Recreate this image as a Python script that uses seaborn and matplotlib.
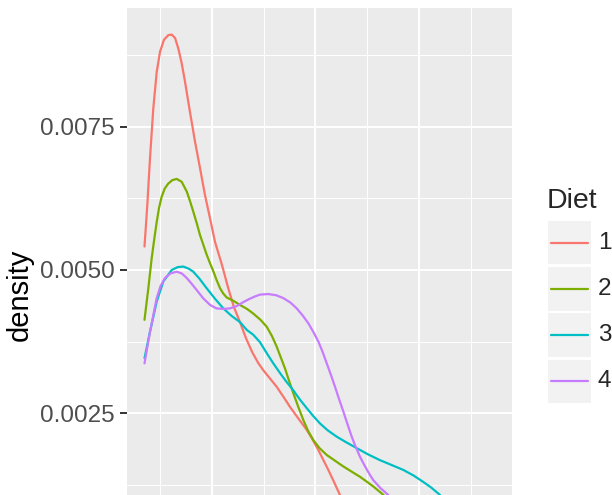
import pandas as pd
import seaborn as sns
import matplotlib.pyplot as plt
from matplotlib.patches import Rectangle
from matplotlib.lines import Line2D

# density curves (weight vs. density, one series per diet)
diet1_weight = [35, 37.7, 40.3, 43.5, 46.8, 50, 53.8, 58, 61.3, 64.5, 67.6, 70.9, 74.1,
                78.9, 83.8, 88.6, 93.4, 98.3, 103.1, 109.8, 115.6, 121.4, 127.2, 133,
                138.9, 144.7, 149.7, 156, 162.7, 169, 175.5, 183.5, 191.6, 197, 202.8,
                207.5, 212.5, 218, 223.8]
diet1_density = [0.00541, 0.00613, 0.00695, 0.00782, 0.00846, 0.00881, 0.00902, 0.00910,
                 0.00911, 0.00905, 0.00887, 0.00861, 0.00829, 0.00776, 0.00724, 0.00678,
                 0.00631, 0.00590, 0.00549, 0.00509, 0.00470, 0.00435, 0.00409, 0.00381,
                 0.00357, 0.00338, 0.00325, 0.00311, 0.00296, 0.00279, 0.00261, 0.00241,
                 0.00221, 0.00205, 0.00186, 0.00169, 0.00151, 0.00130, 0.00107]

diet2_weight = [35, 38.7, 41.9, 44.5, 46.8, 49, 51.6, 54.5, 58, 62, 66.1, 70.9, 75.8, 79,
                82.1, 85.4, 88.6, 92, 95, 98, 101, 104.5, 108, 111, 114.4, 121, 127.2,
                134, 140, 147, 153, 158, 162.7, 166.7, 170.7, 174.7, 178.7, 183.5, 188.4,
                193, 198.1, 204, 211, 219, 227, 235, 243.1, 250, 256, 266]
diet2_density = [0.00413, 0.00468, 0.00520, 0.00555, 0.00584, 0.00608, 0.00628, 0.00642,
                 0.00651, 0.00657, 0.00659, 0.00654, 0.00637, 0.00620, 0.00602, 0.00582,
                 0.00561, 0.00543, 0.00527, 0.00513, 0.00500, 0.00483, 0.00468, 0.00459,
                 0.00452, 0.00446, 0.00439, 0.00432, 0.00424, 0.00413, 0.00401, 0.00385,
                 0.00366, 0.00347, 0.00328, 0.00306, 0.00285, 0.00261, 0.00238, 0.00219,
                 0.00203, 0.00189, 0.00177, 0.00167, 0.00157, 0.00148, 0.00139, 0.00130,
                 0.00122, 0.00107]

diet3_weight = [35, 40.3, 46.8, 53.2, 61.3, 67, 72.5, 78, 82.1, 88, 95.1, 103, 111.1, 119,
                127.2, 134, 140, 146.5, 153, 159, 165.9, 172, 178.7, 185, 191.6, 198,
                204.5, 212, 220.6, 230, 239.9, 251, 262.4, 273, 284.9, 295, 304.2, 312,
                320.5]
diet3_density = [0.00346, 0.00392, 0.00445, 0.00480, 0.00500, 0.00505, 0.00506, 0.00502,
                 0.00497, 0.00485, 0.00468, 0.00450, 0.00433, 0.00420, 0.00409, 0.00395,
                 0.00387, 0.00374, 0.00355, 0.00338, 0.00320, 0.00305, 0.00290, 0.00274,
                 0.00259, 0.00245, 0.00232, 0.00220, 0.00209, 0.00199, 0.00189, 0.00178,
                 0.00168, 0.00160, 0.00151, 0.00141, 0.00130, 0.00120, 0.00107]

diet4_weight = [35, 40.3, 46.8, 50.5, 54.8, 60, 66.1, 71, 75.8, 80.5, 85.4, 91.5, 98.3,
                104.5, 111.1, 117.5, 124, 130.5, 136.9, 142, 146.5, 154.5, 162, 169, 176,
                182, 188, 193.2, 198, 202.9, 207, 211, 215, 219, 223, 227, 231, 235.1,
                239, 243.1, 248, 252.8, 256, 263, 270.5]
diet4_density = [0.00337, 0.00392, 0.00451, 0.00472, 0.00486, 0.00494, 0.00497, 0.00494,
                 0.00486, 0.00476, 0.00465, 0.00451, 0.00439, 0.00433, 0.00432, 0.00433,
                 0.00437, 0.00444, 0.00450, 0.00454, 0.00457, 0.00458, 0.00456, 0.00451,
                 0.00443, 0.00433, 0.00420, 0.00407, 0.00392, 0.00375, 0.00357, 0.00337,
                 0.00317, 0.00296, 0.00274, 0.00253, 0.00231, 0.00209, 0.00191, 0.00174,
                 0.00157, 0.00142, 0.00133, 0.00119, 0.00107]

diets = ['1', '2', '3', '4']
diet_colors = ['#F8766D', '#7CAE00', '#00BFC4', '#C77CFF']

y_ticks = [0.0025, 0.0050, 0.0075]
y_tick_labels = ['0.0025', '0.0050', '0.0075']

df = pd.concat([
    pd.DataFrame({'weight': diet1_weight, 'density': diet1_density, 'Diet': '1'}),
    pd.DataFrame({'weight': diet2_weight, 'density': diet2_density, 'Diet': '2'}),
    pd.DataFrame({'weight': diet3_weight, 'density': diet3_density, 'Diet': '3'}),
    pd.DataFrame({'weight': diet4_weight, 'density': diet4_density, 'Diet': '4'}),
])

sns.set_style('darkgrid', {'axes.facecolor': '#EBEBEB', 'grid.color': 'white'})
plt.rcParams['font.family'] = ['Liberation Sans', 'DejaVu Sans']

W, H = 612, 495
fig = plt.figure(figsize=(W / 100, H / 100), dpi=100)

# panel runs past the bottom edge, like the cropped reference
ax = fig.add_axes([127 / W, 1 - 582.5 / H, 385 / W, (582.5 - 8) / H])

palette = dict(zip(diets, diet_colors))
sns.lineplot(data=df, x='weight', y='density', hue='Diet', palette=palette,
             estimator=None, linewidth=1.6, legend=False, ax=ax)

ax.set_xlim(18.1, 389.9)
ax.set_ylim(-0.000456, 0.009574)
ax.set_xticks([100, 200, 300])
ax.set_xticks([50, 150, 250, 350], minor=True)
ax.set_yticks(y_ticks)
ax.set_yticklabels(y_tick_labels)
ax.set_yticks([0.00125, 0.00375, 0.00625, 0.00875], minor=True)
ax.grid(which='major', color='white', linewidth=1.4)
ax.grid(which='minor', color='white', linewidth=0.7)
ax.tick_params(which='major', axis='y', length=5, width=1.4, color='#333333',
               labelsize=17.5, labelcolor='#4D4D4D', pad=4, left=True)
ax.tick_params(which='minor', length=0)
ax.tick_params(axis='x', labelbottom=False, length=0)
for s in ax.spines.values():
    s.set_visible(False)

ax.set_xlabel('')
ax.set_ylabel('density', fontsize=21, color='black')
ax.yaxis.set_label_coords((34 - 127) / 385, 0.5)

# legend, drawn by hand to get ggplot's grey key boxes
def fx(px):
    return px / W

def fy(py):
    return 1 - py / H

fig.text(fx(547), fy(208.5), 'Diet', fontsize=20.5, ha='left', va='baseline')
for i, (name, col) in enumerate(zip(diets, diet_colors)):
    top = 221 + i * 46.2
    fig.add_artist(Rectangle((fx(547.7), fy(top + 43.3)), 43.3 / W, 43.3 / H,
                             transform=fig.transFigure, facecolor='#F2F2F2',
                             edgecolor='none'))
    cy = top + 21.6
    fig.add_artist(Line2D([fx(550.7), fx(587.7)], [fy(cy), fy(cy)],
                          transform=fig.transFigure, color=col, linewidth=1.6))
    fig.text(fx(598), fy(cy), name, fontsize=17.5, ha='left', va='center')

fig.savefig('out.png', dpi=100)
